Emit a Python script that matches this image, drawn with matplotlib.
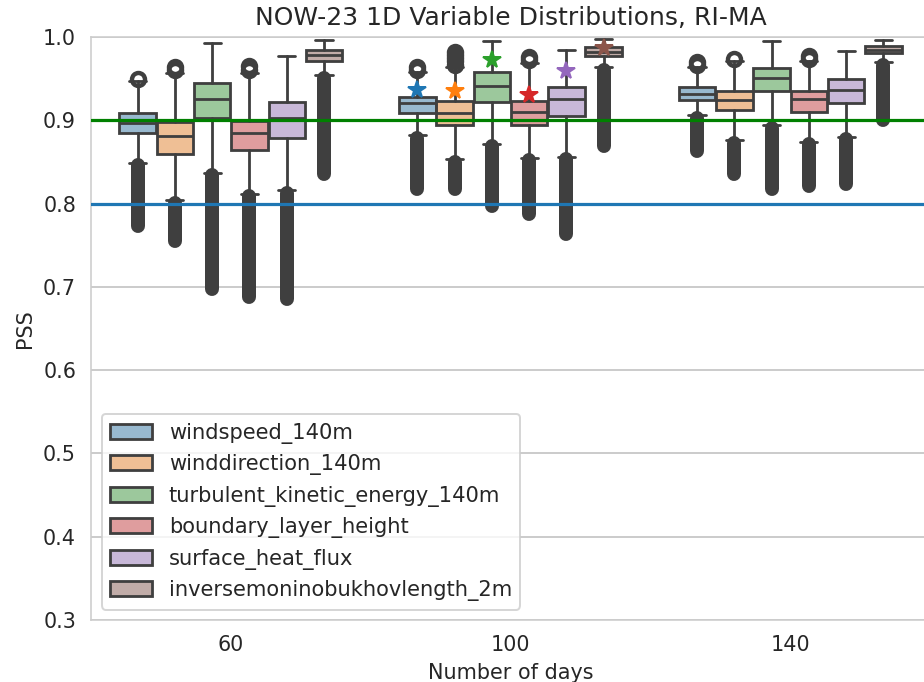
import matplotlib
matplotlib.use("Agg")
import matplotlib.pyplot as plt
from matplotlib.patches import Patch
import seaborn as sns

days = ["60", "100", "140"]
variables = [
    "windspeed_140m",
    "winddirection_140m",
    "turbulent_kinetic_energy_140m",
    "boundary_layer_height",
    "surface_heat_flux",
    "inversemoninobukhovlength_2m",
]

# PSS box statistics: one row per number of days, one column per variable
q1 = [
    [0.885, 0.860, 0.903, 0.864, 0.879, 0.971],
    [0.909, 0.894, 0.922, 0.894, 0.905, 0.977],
    [0.924, 0.912, 0.935, 0.910, 0.921, 0.981],
]
med = [
    [0.897, 0.881, 0.926, 0.885, 0.903, 0.978],
    [0.921, 0.909, 0.941, 0.910, 0.925, 0.982],
    [0.932, 0.924, 0.951, 0.925, 0.936, 0.985],
]
q3 = [
    [0.909, 0.898, 0.945, 0.899, 0.922, 0.984],
    [0.928, 0.923, 0.958, 0.923, 0.940, 0.988],
    [0.940, 0.935, 0.963, 0.935, 0.950, 0.989],
]
whis_lo = [
    [0.849, 0.804, 0.837, 0.812, 0.816, 0.954],
    [0.882, 0.853, 0.872, 0.855, 0.856, 0.964],
    [0.906, 0.876, 0.894, 0.874, 0.880, 0.970],
]
whis_hi = [
    [0.947, 0.957, 0.993, 0.957, 0.977, 0.996],
    [0.958, 0.964, 0.995, 0.969, 0.985, 0.998],
    [0.964, 0.971, 0.995, 0.971, 0.983, 0.997],
]

# low outliers are so dense they merge into one column: keep its top and bottom
low_out_top = [
    [0.846, 0.801, 0.834, 0.809, 0.813, 0.951],
    [0.879, 0.850, 0.869, 0.852, 0.853, 0.961],
    [0.903, 0.873, 0.891, 0.871, 0.877, 0.967],
]
low_out_bottom = [
    [0.773, 0.755, 0.698, 0.688, 0.686, 0.836],
    [0.818, 0.818, 0.797, 0.788, 0.764, 0.869],
    [0.863, 0.836, 0.818, 0.821, 0.824, 0.900],
]
high_out = [
    [[0.950], [0.960, 0.964], [], [0.960, 0.965], [], []],
    [[0.961, 0.964], [0.967, 0.971, 0.975, 0.979, 0.982], [], [0.972, 0.976], [], []],
    [[0.967, 0.970], [0.974], [], [0.974, 0.977], [], []],
]

# reference PSS for the 100-day runs
ref_100 = [0.936, 0.935, 0.972, 0.930, 0.959, 0.987]

sns.set_style("whitegrid")
text_c = "#262626"
line_c = "#3f3f3f"

palette = sns.color_palette("tab10", len(variables))
faces = [(*sns.desaturate(c, 0.75), 0.5) for c in palette]

fig = plt.figure(figsize=(924 / 144, 682 / 144), dpi=144)
ax = fig.add_axes([0.0985, 0.0909, 0.908, 0.8548])

n = len(variables)
width = 0.8 / n
for g in range(len(days)):
    for i in range(n):
        pos = g + (i - (n - 1) / 2) * width
        stats = [{
            "q1": q1[g][i], "med": med[g][i], "q3": q3[g][i],
            "whislo": whis_lo[g][i], "whishi": whis_hi[g][i],
            "fliers": high_out[g][i],
        }]
        ax.bxp(stats, positions=[pos], widths=width * 0.98, capwidths=width * 0.46,
               patch_artist=True, manage_ticks=False,
               boxprops=dict(facecolor=faces[i], edgecolor=line_c, linewidth=1.4),
               medianprops=dict(color=line_c, linewidth=1.4),
               whiskerprops=dict(color=line_c, linewidth=1.4),
               capprops=dict(color=line_c, linewidth=1.4),
               flierprops=dict(marker="o", markerfacecolor="none",
                               markeredgecolor=line_c, markersize=6.5,
                               markeredgewidth=2.2))
        ax.plot([pos, pos], [low_out_bottom[g][i], low_out_top[g][i]],
                color=line_c, lw=7, solid_capstyle="round", zorder=2.5)
        if days[g] == "100":
            ax.plot(pos, ref_100[i], marker="*", markersize=9, color=palette[i],
                    linestyle="none", zorder=4)

ax.axhline(0.8, color="tab:blue", lw=1.6, zorder=5)
ax.axhline(0.9, color="green", lw=1.6, zorder=5)

ax.set_xlim(-0.5, len(days) - 0.5)
ax.set_ylim(0.3, 1.0)
ax.set_xticks(range(len(days)))
ax.set_xticklabels(days)
ax.set_yticks([0.3, 0.4, 0.5, 0.6, 0.7, 0.8, 0.9, 1.0])
ax.xaxis.grid(False)
ax.yaxis.grid(True, color="#cccccc", lw=1)
ax.tick_params(axis="both", length=0, pad=7.5, labelsize=10.4, colors=text_c)
for s in ax.spines.values():
    s.set_color("#cccccc")

ax.set_title("NOW-23 1D Variable Distributions, RI-MA", fontsize=12.5, color=text_c)
ax.set_xlabel("Number of days", fontsize=10.4, color=text_c)
ax.set_ylabel("PSS", fontsize=10.4, color=text_c)

handles = [Patch(facecolor=faces[i], edgecolor=line_c, linewidth=1.4, label=v)
           for i, v in enumerate(variables)]
leg = ax.legend(handles=handles, loc="lower left", fontsize=10.5, frameon=True)
for t in leg.get_texts():
    t.set_color(text_c)

fig.savefig("out.png", dpi=144)
